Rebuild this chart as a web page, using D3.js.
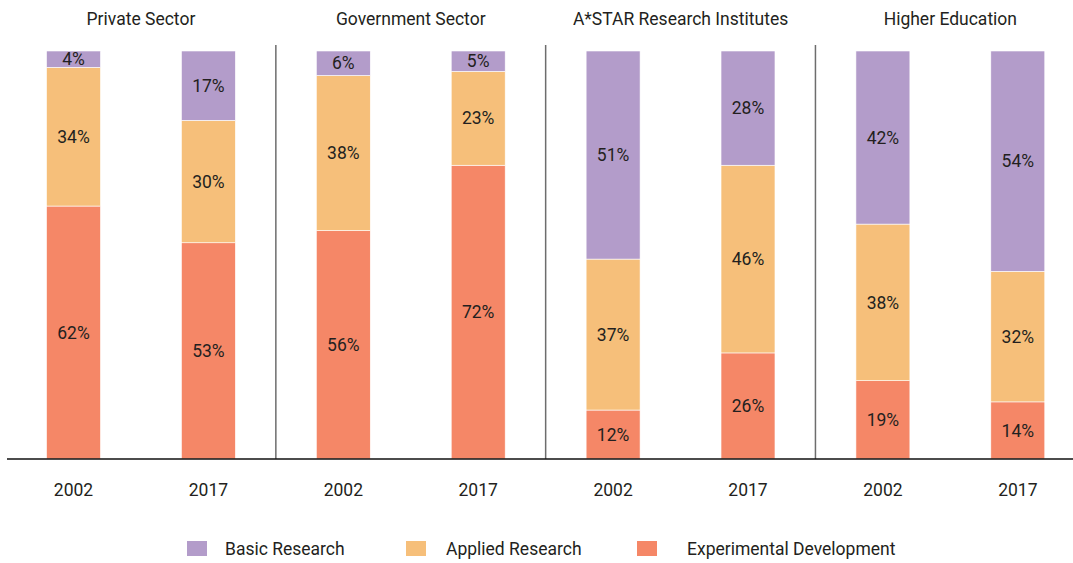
<!DOCTYPE html>
<html>
<head>
<meta charset="utf-8">
<script src="https://cdn.jsdelivr.net/npm/d3@7"></script>
<style>
  body { margin: 0; background: #fff; }
  text { font-family: Roboto, "DejaVu Sans Condensed", sans-serif; fill: #231f20; }
</style>
</head>
<body>
<div id="vis"></div>
<script>
const WIDTH = 1073;
const HEIGHT = 563;

// data
const sectors = ["Private Sector", "Government Sector", "A*STAR Research Institutes", "Higher Education"];
const years = ["2002", "2017"];
const seriesNames = ["Experimental Development", "Applied Research", "Basic Research"];
// one entry per sector, two years each
const experimental = [[62, 53], [56, 72], [12, 26], [19, 14]];
const applied = [[34, 30], [38, 23], [37, 46], [38, 32]];
const basic = [[4, 17], [6, 5], [51, 28], [42, 54]];

const colours = {
	"Basic Research": "#b39cca",
	"Applied Research": "#f6bf7a",
	"Experimental Development": "#f58767"
};
const legendOrder = ["Basic Research", "Applied Research", "Experimental Development"];

// flatten into rows for the stack
const rows = [];
sectors.forEach((s, i) => {
	years.forEach((y, j) => {
		rows.push({
			key: s + "|" + y,
			sector: s,
			year: y,
			"Experimental Development": experimental[i][j],
			"Applied Research": applied[i][j],
			"Basic Research": basic[i][j]
		});
	});
});

const baseY = 459;
const topY = 51;
const FONT = "17.5px";

const x = d3.scalePoint()
	.domain(rows.map(d => d.key))
	.range([73.5, 1017.8]);
const barWidth = x.step() * 0.4;

const y = d3.scaleLinear()
	.domain([0, 1])
	.range([baseY, topY]);

// normalise each bar to full height (labels keep the rounded values)
const stacked = d3.stack()
	.keys(seriesNames)
	.offset(d3.stackOffsetExpand)(rows);

const svg = d3.select("#vis").append("svg")
	.attr("width", WIDTH)
	.attr("height", HEIGHT);

const layers = svg.selectAll(".layer")
	.data(stacked)
	.enter()
	.append("g")
	.attr("class", "layer")
	.attr("fill", d => colours[d.key]);

layers.selectAll("rect")
	.data(d => d)
	.enter()
	.append("rect")
	.attr("x", d => x(d.data.key) - barWidth / 2)
	.attr("y", d => y(d[1]))
	.attr("width", barWidth)
	.attr("height", d => y(d[0]) - y(d[1]))
	.attr("stroke", "#fff")
	.attr("stroke-width", 0.6);

// value labels in the middle of each segment
stacked.forEach(layer => {
	svg.append("g").selectAll("text")
		.data(layer)
		.enter()
		.append("text")
		.attr("x", d => x(d.data.key))
		.attr("y", d => (y(d[0]) + y(d[1])) / 2)
		.attr("dy", "0.35em")
		.attr("text-anchor", "middle")
		.style("font-size", FONT)
		.text(d => d.data[layer.key] + "%");
});

// dividers between sectors
for (let i = 1; i < sectors.length; i++) {
	const a = x(sectors[i - 1] + "|2017");
	const b = x(sectors[i] + "|2002");
	svg.append("line")
		.attr("x1", (a + b) / 2)
		.attr("x2", (a + b) / 2)
		.attr("y1", 45)
		.attr("y2", baseY)
		.attr("stroke", "#6d6d6d")
		.attr("stroke-width", 1.5);
}

// baseline
svg.append("line")
	.attr("x1", 7)
	.attr("x2", WIDTH)
	.attr("y1", baseY)
	.attr("y2", baseY)
	.attr("stroke", "#111")
	.attr("stroke-width", 1.5);

// sector titles
svg.append("g").selectAll("text")
	.data(sectors)
	.enter()
	.append("text")
	.attr("x", s => (x(s + "|2002") + x(s + "|2017")) / 2)
	.attr("y", 19)
	.attr("dy", "0.35em")
	.attr("text-anchor", "middle")
	.style("font-size", FONT)
	.text(s => s);

// year labels
svg.append("g").selectAll("text")
	.data(rows)
	.enter()
	.append("text")
	.attr("x", d => x(d.key))
	.attr("y", 490)
	.attr("dy", "0.35em")
	.attr("text-anchor", "middle")
	.style("font-size", FONT)
	.text(d => d.year);

// legend
const legendX = [187, 406, 637];
const legendTextX = [225, 446, 687];
const legend = svg.append("g").selectAll("g")
	.data(legendOrder)
	.enter()
	.append("g");

legend.append("rect")
	.attr("x", (d, i) => legendX[i])
	.attr("y", 541)
	.attr("width", 20)
	.attr("height", 15)
	.attr("fill", d => colours[d]);

legend.append("text")
	.attr("x", (d, i) => legendTextX[i])
	.attr("y", 549)
	.attr("dy", "0.35em")
	.style("font-size", FONT)
	.text(d => d);
</script>
</body>
</html>
